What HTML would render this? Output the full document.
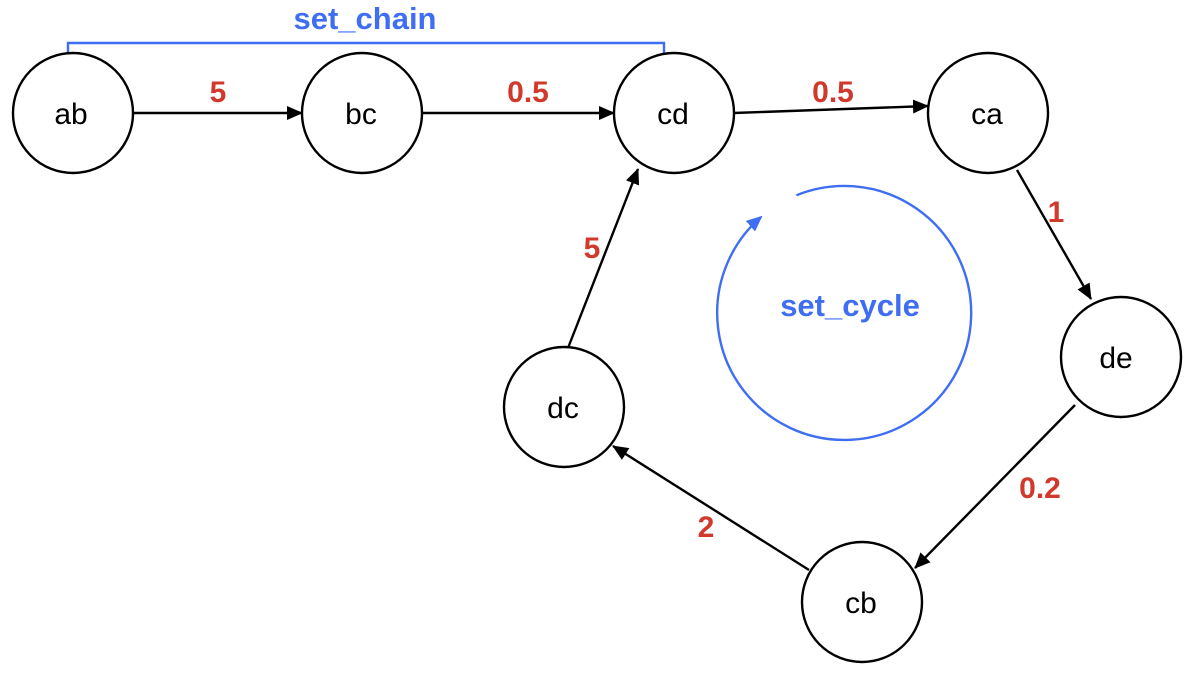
<!DOCTYPE html>
<html><head><meta charset="utf-8"><style>
html,body{margin:0;padding:0;background:#fff;}
svg{display:block;}
</style></head><body>
<svg width="1189" height="675" viewBox="0 0 1189 675" xmlns="http://www.w3.org/2000/svg">
<defs>
<marker id="a" markerWidth="16" markerHeight="14" refX="15" refY="7" orient="auto" markerUnits="userSpaceOnUse" viewBox="0 0 16 14">
<path d="M0,0 L16,7 L0,14 Z" fill="#000"/></marker>
<marker id="b" markerWidth="16" markerHeight="14" refX="14" refY="7" orient="auto" markerUnits="userSpaceOnUse" viewBox="0 0 16 14">
<path d="M0,0 L16,7 L0,14 Z" fill="#3f6ef3"/></marker>
</defs>
<g font-family="Liberation Sans, sans-serif">
<path d="M68,55 L68,43 L664,43 L664,55" fill="none" stroke="#3f6ef3" stroke-width="2.4"/>
<text x="365" y="29" font-size="31" font-weight="bold" fill="#3f6ef3" text-anchor="middle">set_chain</text>

<g stroke="#000" stroke-width="2.4" fill="none">
<line x1="133" y1="113" x2="302" y2="113" marker-end="url(#a)"/>
<line x1="422" y1="113" x2="614" y2="113" marker-end="url(#a)"/>
<line x1="734" y1="113" x2="928" y2="106" marker-end="url(#a)"/>
<line x1="1017" y1="170" x2="1091" y2="299" marker-end="url(#a)"/>
<line x1="1075" y1="405" x2="915" y2="568" marker-end="url(#a)"/>
<line x1="809" y1="570" x2="613" y2="446" marker-end="url(#a)"/>
<line x1="568" y1="348" x2="638" y2="169" marker-end="url(#a)"/>
</g>

<path d="M796.4,195.3 A127,127 0 1 1 761,217" fill="none" stroke="#3f6ef3" stroke-width="2.4" marker-end="url(#b)"/>
<text x="850" y="316" font-size="31" font-weight="bold" fill="#3f6ef3" text-anchor="middle">set_cycle</text>

<g stroke="#000" stroke-width="2.4" fill="#fff">
<circle cx="73" cy="113" r="60"/>
<circle cx="362" cy="113" r="60"/>
<circle cx="674" cy="113" r="60"/>
<circle cx="988" cy="113" r="60"/>
<circle cx="1121" cy="357" r="60"/>
<circle cx="862" cy="602" r="60"/>
<circle cx="564" cy="407" r="60"/>
</g>
<g font-size="30" fill="#000" text-anchor="middle">
<text x="71" y="124">ab</text>
<text x="361" y="124">bc</text>
<text x="673" y="124">cd</text>
<text x="987" y="124">ca</text>
<text x="1116" y="368">de</text>
<text x="861" y="613">cb</text>
<text x="563" y="418">dc</text>
</g>
<g font-size="30" font-weight="bold" fill="#d0392b" text-anchor="middle">
<text x="218" y="102">5</text>
<text x="528" y="102">0.5</text>
<text x="833" y="102">0.5</text>
<text x="1056" y="222">1</text>
<text x="1040" y="498">0.2</text>
<text x="706" y="537">2</text>
<text x="592" y="258">5</text>
</g>
</g>
</svg>
</body></html>
